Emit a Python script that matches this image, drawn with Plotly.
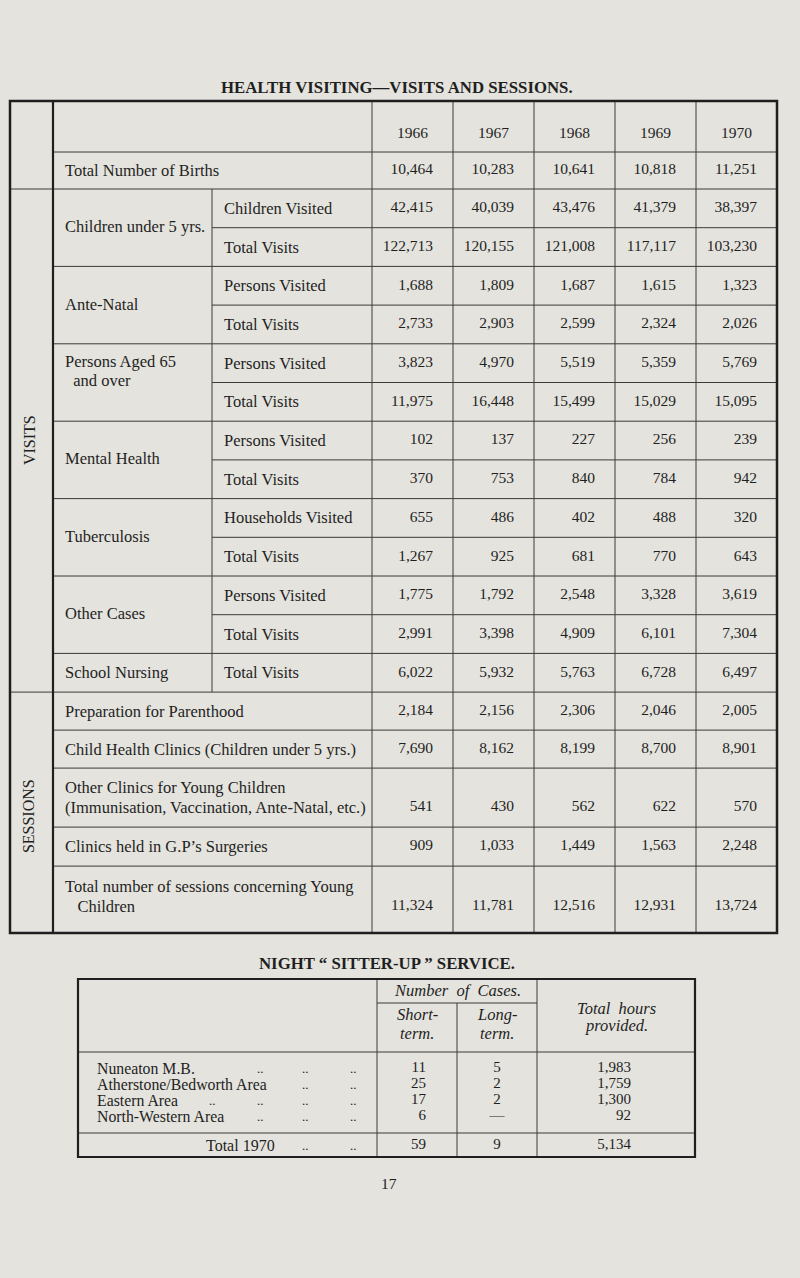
import plotly.graph_objects as go

# ---------------- Health visiting table ----------------
years = ["1966", "1967", "1968", "1969", "1970"]
births = [10464, 10283, 10641, 10818, 11251]

children_visited = [42415, 40039, 43476, 41379, 38397]
children_visits = [122713, 120155, 121008, 117117, 103230]
antenatal_persons = [1688, 1809, 1687, 1615, 1323]
antenatal_visits = [2733, 2903, 2599, 2324, 2026]
aged_persons = [3823, 4970, 5519, 5359, 5769]
aged_visits = [11975, 16448, 15499, 15029, 15095]
mental_persons = [102, 137, 227, 256, 239]
mental_visits = [370, 753, 840, 784, 942]
tb_households = [655, 486, 402, 488, 320]
tb_visits = [1267, 925, 681, 770, 643]
other_persons = [1775, 1792, 2548, 3328, 3619]
other_visits = [2991, 3398, 4909, 6101, 7304]
school_visits = [6022, 5932, 5763, 6728, 6497]

parenthood = [2184, 2156, 2306, 2046, 2005]
child_clinics = [7690, 8162, 8199, 8700, 8901]
other_clinics = [541, 430, 562, 622, 570]
gp_clinics = [909, 1033, 1449, 1563, 2248]
total_sessions = [11324, 11781, 12516, 12931, 13724]

visit_groups = [
    ("Children under 5 yrs.", [("Children Visited", children_visited), ("Total Visits", children_visits)]),
    ("Ante-Natal", [("Persons Visited", antenatal_persons), ("Total Visits", antenatal_visits)]),
    ("Persons Aged 65\n\u00a0\u00a0and over", [("Persons Visited", aged_persons), ("Total Visits", aged_visits)]),
    ("Mental Health", [("Persons Visited", mental_persons), ("Total Visits", mental_visits)]),
    ("Tuberculosis", [("Households Visited", tb_households), ("Total Visits", tb_visits)]),
    ("Other Cases", [("Persons Visited", other_persons), ("Total Visits", other_visits)]),
    ("School Nursing", [("Total Visits", school_visits)]),
]
session_rows = [
    ("Preparation for Parenthood", parenthood),
    ("Child Health Clinics (Children under 5 yrs.)", child_clinics),
    ("Other Clinics for Young Children\n(Immunisation, Vaccination, Ante-Natal, etc.)", other_clinics),
    ("Clinics held in G.P\u2019s Surgeries", gp_clinics),
    ("Total number of sessions concerning Young\n\u00a0\u00a0\u00a0Children", total_sessions),
]

# ---------------- Night sitter-up table ----------------
areas = ["Nuneaton M.B.", "Atherstone/Bedworth Area", "Eastern Area", "North-Western Area"]
short_term = [11, 25, 17, 6]
long_term = [5, 2, 2, None]
hours = [1983, 1759, 1300, 92]
leader_dots = [3, 2, 4, 3]
total_label = "Total 1970"
total_short, total_long, total_hours = 59, 9, 5134

# ---------------- style / geometry ----------------
BG = "#e4e3dd"
INK = "#1f1f1f"
LINE = "#3a3a3a"
SERIF = "Liberation Serif, Times New Roman, serif"
LABEL_SIZE = 16.5
NUM_SIZE = 15.5
TITLE_SIZE = 16.8

X_LEFT, X_RULE, X_SUB, X_DATA, X_RIGHT = 10, 53, 212, 372, 777
COL_W = (X_RIGHT - X_DATA) / len(years)
TOP, HEAD_H, BIRTH_H, ROW_H = 101, 51, 37, 38.7
SESSION_H = [38, 38, 59, 39, 67]

shapes = []
annotations = []


def hline(y, x0, x1, w=1, color=LINE):
    shapes.append(dict(type="line", xref="x", yref="y", x0=x0, x1=x1, y0=y, y1=y,
                       line=dict(color=color, width=w)))


def vline(x, y0, y1, w=1, color=LINE):
    shapes.append(dict(type="line", xref="x", yref="y", x0=x, x1=x, y0=y0, y1=y1,
                       line=dict(color=color, width=w)))


def text(x, y, s, anchor="left", size=LABEL_SIZE, angle=0):
    annotations.append(dict(x=x, y=y, xref="x", yref="y", text=s, showarrow=False,
                            xanchor=anchor, yanchor="middle", textangle=angle,
                            font=dict(family=SERIF, size=size, color=INK)))


def label_lines(x, y_first, label, gap=20):
    for i, line in enumerate(label.split("\n")):
        text(x, y_first + i * gap, line)


val_x, val_y, val_t = [], [], []


def add_values(y, values):
    for j, v in enumerate(values):
        val_x.append(X_DATA + (j + 1) * COL_W - 20)
        val_y.append(y)
        val_t.append(f"{v:,}")


# header
for j, yr in enumerate(years):
    text(X_DATA + (j + 0.5) * COL_W, TOP + 31, yr, anchor="center", size=NUM_SIZE)
y = TOP + HEAD_H
hline(y, X_RULE, X_RIGHT)

# births
text(X_RULE + 10, y + BIRTH_H / 2, "Total Number of Births")
add_values(y + BIRTH_H / 2, births)
y += BIRTH_H
visits_top = y

# visits
for g, (group, items) in enumerate(visit_groups):
    hline(y, X_LEFT if g == 0 else X_RULE, X_RIGHT)
    n_lines = group.count("\n") + 1
    if len(items) == 1:
        text(X_RULE + 10, y + ROW_H / 2, group)
    elif n_lines > 1:
        label_lines(X_RULE + 10, y + 18, group, gap=19)
    else:
        text(X_RULE + 10, y + ROW_H * len(items) / 2 - 1, group)
    for i, (item, vals) in enumerate(items):
        if i > 0:
            hline(y, X_SUB, X_RIGHT)
        text(X_SUB + 10, y + ROW_H / 2, item)
        add_values(y + ROW_H / 2, vals)
        y += ROW_H
visits_bottom = y
vline(X_SUB, visits_top, visits_bottom)

# sessions
for s, ((label, vals), h) in enumerate(zip(session_rows, SESSION_H)):
    hline(y, X_LEFT if s == 0 else X_RULE, X_RIGHT)
    n_lines = label.count("\n") + 1
    mid = y + min(h / 2, 30)
    first = mid - (n_lines - 1) * 10
    label_lines(X_RULE + 10, first, label)
    add_values(first + (n_lines - 1) * 20, vals)
    y += h
bottom = y

for j in range(len(years)):
    vline(X_DATA + j * COL_W, TOP, bottom)
vline(X_RULE, TOP, bottom, w=2.2, color=INK)
shapes.append(dict(type="rect", xref="x", yref="y", x0=X_LEFT, x1=X_RIGHT, y0=TOP, y1=bottom,
                   line=dict(color=INK, width=2.5)))
text((X_LEFT + X_RULE) / 2 - 2, (visits_top + visits_bottom) / 2, "VISITS", anchor="center", size=16, angle=-90)
text((X_LEFT + X_RULE) / 2 - 3, (visits_bottom + bottom) / 2 + 4, "SESSIONS", anchor="center", size=16, angle=-90)

text(397, 87, "<b>HEALTH VISITING\u2014VISITS AND SESSIONS.</b>", anchor="center", size=TITLE_SIZE)

# ---------------- second table ----------------
T2_L, T2_C1, T2_C2, T2_C3, T2_R = 78, 377, 457, 537, 695
T2_TOP, T2_SUB, T2_HEAD, T2_TOT, T2_BOT = 979, 1003, 1052, 1133, 1157
T2_ROW0, T2_ROW_H = 1068, 16
T2_TEXT = 15.8
LEADERS = [212, 260, 305, 353]

text(387, 963, "<b>NIGHT \u201c SITTER-UP \u201d SERVICE.</b>", anchor="center", size=TITLE_SIZE)
hline(T2_SUB, T2_C1, T2_C3)
hline(T2_HEAD, T2_L, T2_R)
hline(T2_TOT, T2_L, T2_R)
vline(T2_C1, T2_TOP, T2_BOT)
vline(T2_C2, T2_SUB, T2_BOT)
vline(T2_C3, T2_TOP, T2_BOT)
shapes.append(dict(type="rect", xref="x", yref="y", x0=T2_L, x1=T2_R, y0=T2_TOP, y1=T2_BOT,
                   line=dict(color=INK, width=2.2)))

text((T2_C1 + T2_C3) / 2, 990, "<i>Number  of  Cases.</i>", anchor="center")
text((T2_C1 + T2_C2) / 2, 1014, "<i>Short-</i>", anchor="center")
text((T2_C1 + T2_C2) / 2, 1033, "<i>term.</i>", anchor="center")
text((T2_C2 + T2_C3) / 2, 1014, "<i>Long-</i>", anchor="center")
text((T2_C2 + T2_C3) / 2, 1033, "<i>term.</i>", anchor="center")
text((T2_C3 + T2_R) / 2, 1008, "<i>Total  hours</i>", anchor="center")
text((T2_C3 + T2_R) / 2, 1025, "<i>provided.</i>", anchor="center")

short_x, short_y, short_t = [], [], []
long_x, long_y, long_t = [], [], []
hrs_x, hrs_y, hrs_t = [], [], []
for i, area in enumerate(areas):
    ry = T2_ROW0 + i * T2_ROW_H
    text(T2_L + 17, ry, area, size=T2_TEXT)
    for lx in LEADERS[len(LEADERS) - leader_dots[i]:]:
        text(lx, ry, "..", anchor="center", size=13)
    short_x.append(T2_C1 + 49); short_y.append(ry); short_t.append(str(short_term[i]))
    long_x.append((T2_C2 + T2_C3) / 2); long_y.append(ry)
    long_t.append("\u2014" if long_term[i] is None else str(long_term[i]))
    hrs_x.append(T2_C3 + 94); hrs_y.append(ry); hrs_t.append(f"{hours[i]:,}")

tot_y = (T2_TOT + T2_BOT) / 2
text(204, tot_y, total_label, size=16)
for lx in LEADERS[2:]:
    text(lx, tot_y, "..", anchor="center", size=13)
short_x.append(T2_C1 + 49); short_y.append(tot_y); short_t.append(str(total_short))
long_x.append((T2_C2 + T2_C3) / 2); long_y.append(tot_y); long_t.append(str(total_long))
hrs_x.append(T2_C3 + 94); hrs_y.append(tot_y); hrs_t.append(f"{total_hours:,}")

text(389, 1183, "17", anchor="center", size=NUM_SIZE)

fig = go.Figure()
numfont = dict(family=SERIF, size=NUM_SIZE, color=INK)
t2font = dict(family=SERIF, size=15, color=INK)
fig.add_trace(go.Scatter(x=val_x, y=val_y, text=val_t, mode="text",
                         textposition="middle left", textfont=numfont, hoverinfo="skip"))
fig.add_trace(go.Scatter(x=short_x, y=short_y, text=short_t, mode="text",
                         textposition="middle left", textfont=t2font, hoverinfo="skip"))
fig.add_trace(go.Scatter(x=long_x, y=long_y, text=long_t, mode="text",
                         textposition="middle center", textfont=t2font, hoverinfo="skip"))
fig.add_trace(go.Scatter(x=hrs_x, y=hrs_y, text=hrs_t, mode="text",
                         textposition="middle left", textfont=t2font, hoverinfo="skip"))

fig.update_layout(
    width=800,
    height=1278,
    autosize=False,
    margin=dict(l=0, r=0, t=0, b=0),
    paper_bgcolor=BG,
    plot_bgcolor=BG,
    showlegend=False,
    shapes=shapes,
    annotations=annotations,
    xaxis=dict(range=[0, 800], visible=False, fixedrange=True),
    yaxis=dict(range=[1278, 0], visible=False, fixedrange=True),
)

fig.write_html("out.html", config={"displayModeBar": False},
               post_script="document.body.style.margin='0';")
